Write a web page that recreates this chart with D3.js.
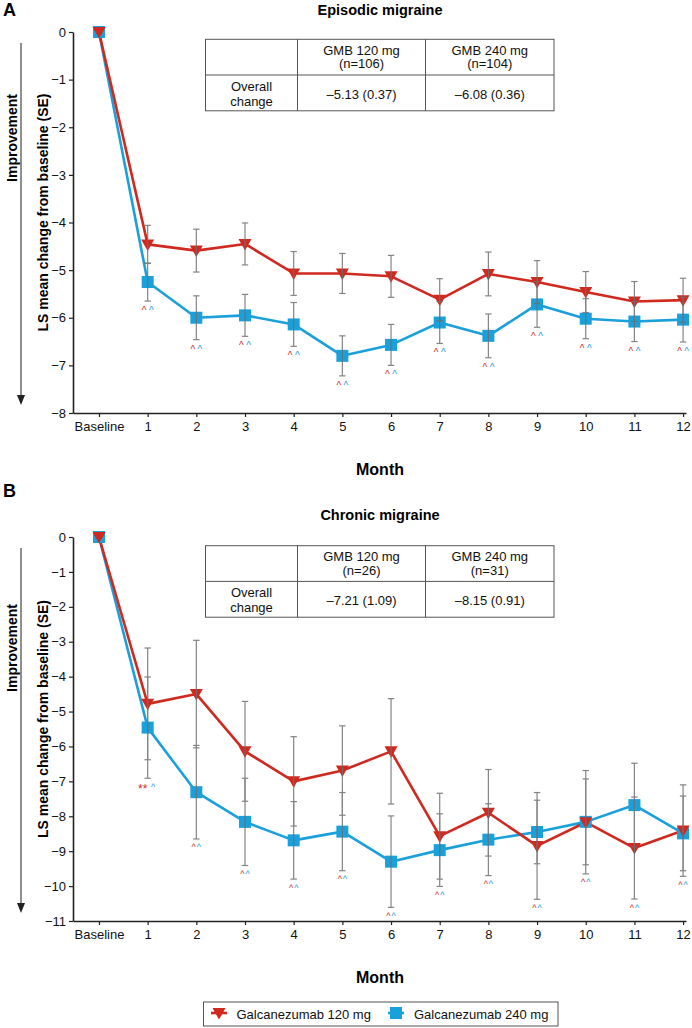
<!DOCTYPE html>
<html>
<head>
<meta charset="utf-8">
<script src="https://cdn.jsdelivr.net/npm/d3@7"></script>
<style>
  html, body { margin: 0; padding: 0; background: #fff; }
  svg { display: block; font-family: "Liberation Sans", Arial, sans-serif; }
</style>
</head>
<body>
<svg id="chart" width="692" height="1028"></svg>
<script>
// ---------- DATA ----------
const monthLabels = ["Baseline","1","2","3","4","5","6","7","8","9","10","11","12"];
const seriesNames = ["Galcanezumab 120 mg", "Galcanezumab 240 mg"];

// Panel A: Episodic migraine
const epi120 = [0, -4.46, -4.59, -4.45, -5.07, -5.07, -5.13, -5.62, -5.08, -5.25, -5.46, -5.66, -5.63];
const epi120se = [0, 0.40, 0.45, 0.44, 0.46, 0.42, 0.44, 0.44, 0.46, 0.45, 0.43, 0.42, 0.46];
const epi240 = [0, -5.25, -6.00, -5.95, -6.14, -6.80, -6.57, -6.10, -6.38, -5.72, -6.02, -6.08, -6.04];
const epi240se = [0, 0.40, 0.46, 0.44, 0.46, 0.42, 0.43, 0.44, 0.46, 0.48, 0.42, 0.42, 0.47];
const epiSig120 = ["", "^","^","^","^","^","^","^","^","^","^","^","^"];
const epiSig240 = ["", "^","^","^","^","^","^","^","^","^","^","^","^"];
const epiTicks = [0, -1, -2, -3, -4, -5, -6, -7, -8];
const epiTableHead = ["GMB 120 mg", "(n=106)", "GMB 240 mg", "(n=104)"];
const epiTableVals = ["–5.13 (0.37)", "–6.08 (0.36)"];

// Panel B: Chronic migraine
const chr120 = [0, -4.78, -4.50, -6.14, -7.00, -6.69, -6.14, -8.57, -7.90, -8.85, -8.17, -8.91, -8.41];
const chr120se = [0, 1.60, 1.54, 1.43, 1.28, 1.28, 1.51, 1.23, 1.24, 1.53, 1.48, 1.46, 1.31];
const chr240 = [0, -5.46, -7.31, -8.16, -8.69, -8.44, -9.30, -8.97, -8.67, -8.45, -8.16, -7.68, -8.49];
const chr240se = [0, 1.45, 1.34, 1.25, 1.11, 1.12, 1.31, 1.04, 1.03, 0.91, 1.23, 1.20, 1.07];
const chrSig120 = ["", "**","^","^","^","^","^","^","^","^","^","^","^"];
const chrSig240 = ["", "^","^","^","^","^","^","^","^","^","^","^","^"];
const chrTicks = [0, -1, -2, -3, -4, -5, -6, -7, -8, -9, -10, -11];
const chrTableHead = ["GMB 120 mg", "(n=26)", "GMB 240 mg", "(n=31)"];
const chrTableVals = ["–7.21 (1.09)", "–8.15 (0.91)"];

// ---------- STYLE ----------
const RED = "#d0291f";
const BLUE = "#1aa0da";
const ERR = "#6f6f6f";
const AXIS = "#222";

const svg = d3.select("#chart");
const x = d3.scaleLinear().domain([-0.534, 12.06]).range([73, 686]);

function drawPanel(cfg) {
  const g = svg.append("g");
  const y = d3.scaleLinear().domain([cfg.ymin, 0]).range([cfg.bottom, cfg.top]);

  // letter and title
  g.append("text").attr("x", 3).attr("y", cfg.letterY)
    .attr("font-size", 18).attr("font-weight", "bold").text(cfg.letter);
  g.append("text").attr("x", 380).attr("y", cfg.titleY).attr("text-anchor", "middle")
    .attr("font-size", 14.5).attr("font-weight", "bold").text(cfg.title);

  // y axis
  const ya = d3.axisLeft(y).tickValues(cfg.ticks).tickSize(4).tickPadding(3).tickSizeOuter(0)
    .tickFormat(d => d === 0 ? "0" : "−" + Math.abs(d));
  const yg = g.append("g").attr("transform", "translate(73,0)").call(ya);
  yg.select(".domain").attr("stroke", AXIS).attr("stroke-width", 1.6);
  yg.selectAll(".tick line").attr("stroke", AXIS).attr("stroke-width", 1.2);
  yg.selectAll(".tick text").attr("font-size", 13).attr("fill", "#111")
    .attr("font-family", "'Liberation Sans', Arial, sans-serif");

  // x axis
  const xa = d3.axisBottom(x).tickValues(d3.range(13)).tickSize(4).tickPadding(5).tickSizeOuter(0)
    .tickFormat(i => monthLabels[i]);
  const xg = g.append("g").attr("transform", `translate(0,${cfg.bottom})`).call(xa);
  xg.select(".domain").attr("stroke", AXIS).attr("stroke-width", 1.6);
  xg.selectAll(".tick line").attr("stroke", AXIS).attr("stroke-width", 1.2);
  xg.selectAll(".tick text").attr("font-size", 13).attr("fill", "#111")
    .attr("font-family", "'Liberation Sans', Arial, sans-serif");

  g.append("text").attr("x", 380).attr("y", cfg.bottom + 62).attr("text-anchor", "middle")
    .attr("font-size", 16).attr("font-weight", "bold").text("Month");

  // y titles + arrow
  const mid = (cfg.top + cfg.bottom) / 2;
  g.append("text").attr("transform", `translate(48,${mid - 10}) rotate(-90)`)
    .attr("text-anchor", "middle").attr("font-size", 14).attr("font-weight", "bold")
    .text("LS mean change from baseline (SE)");
  g.append("text").attr("transform", `translate(17,${cfg.top + cfg.improveOff}) rotate(-90)`)
    .attr("text-anchor", "middle").attr("font-size", 14).attr("font-weight", "bold")
    .text("Improvement");
  g.append("line").attr("x1", 21).attr("x2", 21)
    .attr("y1", cfg.top + 11).attr("y2", cfg.bottom - 14)
    .attr("stroke", "#333").attr("stroke-width", 1.1);
  g.append("path")
    .attr("d", `M${21 - 4},${cfg.bottom - 18} L${21 + 4},${cfg.bottom - 18} L21,${cfg.bottom - 8} Z`)
    .attr("fill", "#222");

  // table
  const t = cfg.tableTop;
  const tl = 205.5, tr = 554, c1 = 297.5, c2 = 425.5, tm = t + 35.7, tb = t + 71.5;
  const tg = g.append("g").attr("stroke", "#555").attr("stroke-width", 1);
  tg.append("rect").attr("x", tl).attr("y", t).attr("width", tr - tl).attr("height", tb - t).attr("fill", "none");
  tg.append("line").attr("x1", tl).attr("x2", tr).attr("y1", tm).attr("y2", tm);
  tg.append("line").attr("x1", c1).attr("x2", c1).attr("y1", t).attr("y2", tb);
  tg.append("line").attr("x1", c2).attr("x2", c2).attr("y1", t).attr("y2", tb);
  const tt = g.append("g").attr("font-size", 13).attr("text-anchor", "middle").attr("fill", "#111");
  const cx1 = (c1 + c2) / 2, cx2 = (c2 + tr) / 2, cx0 = (tl + c1) / 2;
  tt.append("text").attr("x", cx1).attr("y", t + 15.5).text(cfg.head[0]);
  tt.append("text").attr("x", cx1).attr("y", t + 29).text(cfg.head[1]);
  tt.append("text").attr("x", cx2).attr("y", t + 15.5).text(cfg.head[2]);
  tt.append("text").attr("x", cx2).attr("y", t + 29).text(cfg.head[3]);
  tt.append("text").attr("x", cx0).attr("y", tm + 16).text("Overall");
  tt.append("text").attr("x", cx0).attr("y", tm + 31).text("change");
  tt.append("text").attr("x", cx1).attr("y", tm + 24).text(cfg.vals[0]);
  tt.append("text").attr("x", cx2).attr("y", tm + 24).text(cfg.vals[1]);

  // series
  const series = [
    { v: cfg.s240, se: cfg.s240se, color: BLUE, sym: "square" },
    { v: cfg.s120, se: cfg.s120se, color: RED, sym: "tri" }
  ];
  const line = d3.line().x((d, i) => x(i)).y(d => y(d));
  series.forEach(s => {
    g.append("path").datum(s.v).attr("d", line).attr("fill", "none")
      .attr("stroke", s.color).attr("stroke-width", 2.6).attr("stroke-linejoin", "round");
  });
  series.forEach(s => {
    const mg = g.append("g");
    s.v.forEach((d, i) => {
      if (s.sym === "square") {
        mg.append("rect").attr("x", x(i) - 6).attr("y", y(d) - 6)
          .attr("width", 12).attr("height", 12).attr("fill", s.color);
      } else {
        const px = x(i), py = y(d);
        mg.append("path").attr("d", `M${px - 6.5},${py - 5} L${px + 6.5},${py - 5} L${px},${py + 6.5} Z`)
          .attr("fill", s.color);
      }
    });
  });
  // error bars
  const eg = g.append("g").attr("stroke", ERR).attr("stroke-width", 1.2).attr("opacity", 0.85);
  series.forEach(s => {
    s.v.forEach((d, i) => {
      if (!s.se[i]) return;
      const px = x(i), y1 = y(d + s.se[i]), y2 = y(d - s.se[i]);
      eg.append("line").attr("x1", px).attr("x2", px).attr("y1", y1).attr("y2", y2);
      eg.append("line").attr("x1", px - 3.2).attr("x2", px + 3.2).attr("y1", y1).attr("y2", y1);
      eg.append("line").attr("x1", px - 3.2).attr("x2", px + 3.2).attr("y1", y2).attr("y2", y2);
    });
  });
  // significance markers
  const sg = g.append("g").attr("text-anchor", "middle");
  for (let i = 1; i < 13; i++) {
    const low = Math.min(cfg.s120[i] - cfg.s120se[i], cfg.s240[i] - cfg.s240se[i]);
    const by = y(low) + cfg.sigOff;
    const a = cfg.sig120[i], b = cfg.sig240[i];
    const star = a === "**";
    sg.append("text").attr("x", x(i) - (star ? 5 : cfg.sigSep)).attr("y", by + (star ? 3 : 0))
      .attr("font-size", star ? 12 : cfg.sigFont).attr("fill", RED).text(a);
    sg.append("text").attr("x", x(i) + (star ? 5.5 : cfg.sigSep)).attr("y", by)
      .attr("font-size", cfg.sigFont).attr("fill", BLUE).text(b);
  }
}

drawPanel({
  letter: "A", letterY: 16, title: "Episodic migraine", titleY: 15,
  top: 32, bottom: 413, ymin: -8, ticks: epiTicks, improveOff: 106,
  tableTop: 39.3, head: epiTableHead, vals: epiTableVals,
  s120: epi120, s120se: epi120se, s240: epi240, s240se: epi240se,
  sig120: epiSig120, sig240: epiSig240, sigOff: 13, sigFont: 10, sigSep: 3.6
});
drawPanel({
  letter: "B", letterY: 497, title: "Chronic migraine", titleY: 520,
  top: 537, bottom: 921, ymin: -11, ticks: chrTicks, improveOff: 111,
  tableTop: 545.7, head: chrTableHead, vals: chrTableVals,
  s120: chr120, s120se: chr120se, s240: chr240, s240se: chr240se,
  sig120: chrSig120, sig240: chrSig240, sigOff: 11.5, sigFont: 9, sigSep: 2.6
});

// ---------- LEGEND ----------
const lg = svg.append("g");
lg.append("rect").attr("x", 203.5).attr("y", 1002).attr("width", 354.5).attr("height", 24)
  .attr("fill", "none").attr("stroke", "#555").attr("stroke-width", 1);
// red item
lg.append("line").attr("x1", 211).attr("x2", 227).attr("y1", 1013).attr("y2", 1013)
  .attr("stroke", RED).attr("stroke-width", 2.6);
lg.append("path").attr("d", "M212.5,1008 L225.5,1008 L219,1019.5 Z").attr("fill", RED);
lg.append("text").attr("x", 236.5).attr("y", 1019).attr("font-size", 13).attr("fill", "#111").text(seriesNames[0]);
// blue item
lg.append("line").attr("x1", 388).attr("x2", 404).attr("y1", 1013).attr("y2", 1013)
  .attr("stroke", BLUE).attr("stroke-width", 2.6);
lg.append("rect").attr("x", 390).attr("y", 1007).attr("width", 12).attr("height", 12).attr("fill", BLUE);
lg.append("text").attr("x", 414).attr("y", 1019).attr("font-size", 13).attr("fill", "#111").text(seriesNames[1]);
</script>
</body>
</html>
